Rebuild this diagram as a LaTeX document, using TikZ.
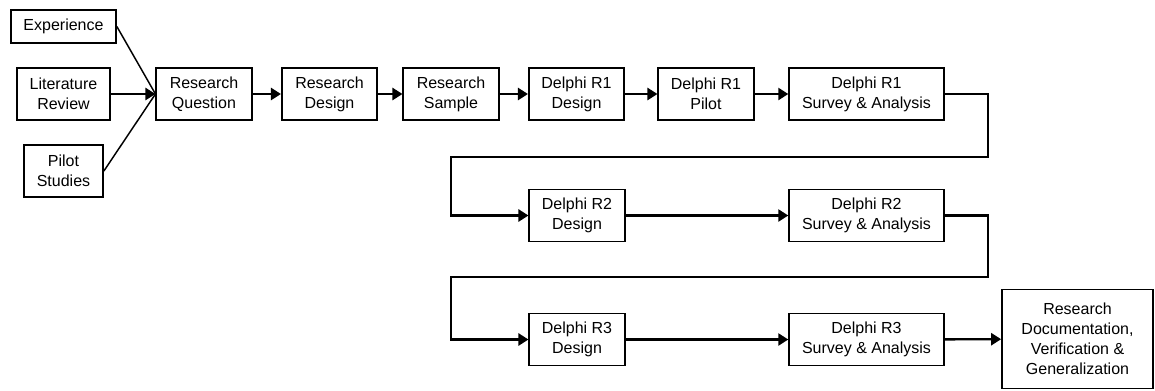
\documentclass[tikz,border=0pt]{standalone}
\usepackage{fontspec}
\setmainfont{Liberation Sans}
\usetikzlibrary{arrows.meta}
\tikzset{
  box/.style={draw, line width=1.3pt, align=center, inner sep=0pt, minimum height=39pt},
  narrow/.style={box, minimum width=71.5pt},
  wide/.style={box, minimum width=116pt},
  link/.style={line width=1.8pt},
  feed/.style={line width=1.1pt}
}
\begin{document}
\begin{tikzpicture}[x=.75pt, y=-.75pt, font=\fontsize{12}{15}\selectfont, line join=miter, >={Triangle[length=7.5pt,width=9pt]}]
	\useasboundingbox (0,0) rectangle (1155,390);
	% inputs
	\node[box, minimum width=78.75pt, minimum height=24.75pt] (exp) at (63.5,26.5) {Experience};
	\node[box, minimum width=69.75pt] (lit) at (63.5,94) {Literature\\Review};
	\node[box, minimum width=59.25pt] (pil) at (63.5,171) {Pilot\\Studies};
	% first row
	\node[narrow] (rq) at (204,94) {Research\\Question};
	\node[narrow] (rd) at (329.5,94) {Research\\Design};
	\node[narrow] (rs) at (451,94) {Research\\Sample};
	\node[narrow] (d1d) at (576.5,94) {Delphi R1\\Design};
	\node[narrow] (d1p) at (706,94) {Delphi R1\\Pilot};
	\node[wide] (d1s) at (866.5,94) {Delphi R1\\Survey \& Analysis};
	% second and third rows
	\node[narrow] (d2d) at (577,215.5) {Delphi R2\\Design};
	\node[wide] (d2s) at (866.5,215.5) {Delphi R2\\Survey \& Analysis};
	\node[narrow] (d3d) at (577,339.5) {Delphi R3\\Design};
	\node[wide] (d3s) at (866.5,339.5) {Delphi R3\\Survey \& Analysis};
	\node[box, minimum width=113.25pt, minimum height=74.25pt] (doc) at (1077.5,339) {Research\\Documentation,\\Verification \&\\Generalization};
	% connectors
	\draw[feed] (exp.east)--(rq.west);
	\draw[feed] (pil.east)--(rq.west);
	\draw[link,->] (lit)--(rq);
	\foreach \a/\b in {rq/rd,rd/rs,rs/d1d,d1d/d1p,d1p/d1s,d2d/d2s,d3d/d3s,d3s/doc}
		\draw[link,->] (\a)--(\b);
	\draw[link,->] (d1s.east)--++(43,0)|-(451,157)|-(d2d.west);
	\draw[link,->] (d2s.east)--++(43,0)|-(451,277)|-(d3d.west);
\end{tikzpicture}
\end{document}
